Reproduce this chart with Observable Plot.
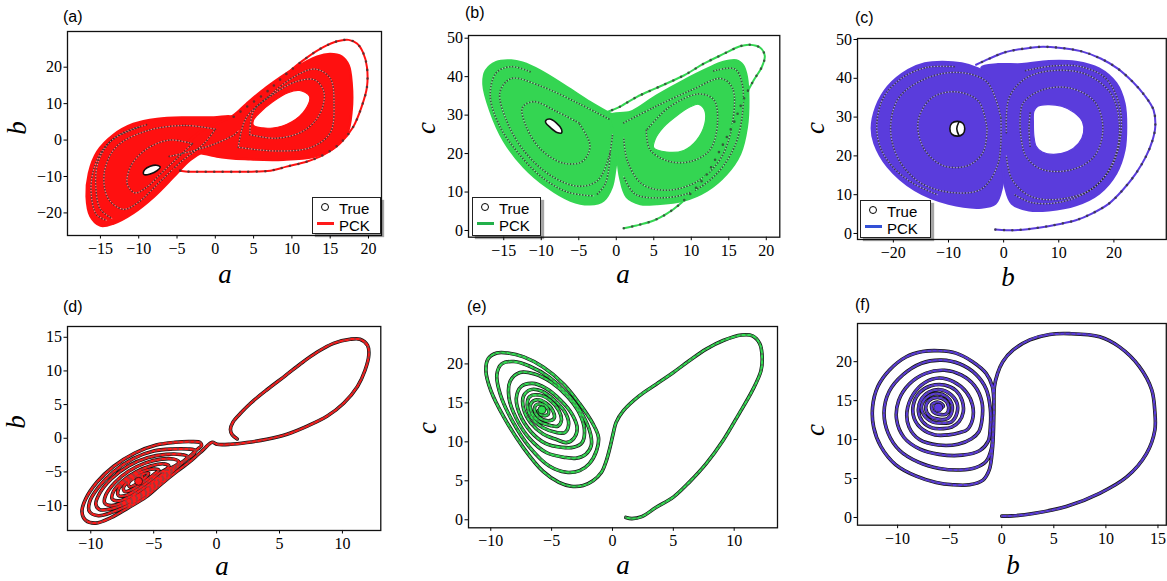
<!DOCTYPE html>
<html><head><meta charset="utf-8">
<script src="https://cdn.jsdelivr.net/npm/d3@7"></script>
<script src="https://cdn.jsdelivr.net/npm/@observablehq/plot@0.6"></script>
<style>
body{margin:0;background:#fff;}
#fig{position:relative;width:1167px;height:581px;overflow:hidden;background:#fff;}
#fig svg{position:absolute;overflow:visible;}
#fig svg text{font-family:"Liberation Serif","Times New Roman",serif !important;font-size:16px !important;fill:#000;}
.plab{position:absolute;font-family:"Liberation Sans",Arial,sans-serif;font-size:16px;line-height:1;color:#000;}
.alab{position:absolute;font-family:"Liberation Serif",serif;font-style:italic;font-size:27px;line-height:0.55;transform:translate(-50%,-50%);white-space:nowrap;}
.ylab{transform:translate(-50%,-50%) rotate(-90deg);}
.leg{position:absolute;background:#fff;border:1.3px solid #222;box-shadow:3px 3px 1px rgba(0,0,0,0.35);font-family:"Liberation Sans",Arial,sans-serif;font-size:15px;line-height:1;}
.leg .t{position:absolute;left:26px;}
.leg .c{position:absolute;width:6px;height:6px;border:1.4px solid #000;border-radius:50%;}
.leg .l{position:absolute;height:3px;width:17px;}
</style></head><body><div id="fig"></div>
<script>
// ---------------- DATA ----------------
const panelLabels = ["(a)","(b)","(c)","(d)","(e)","(f)"];
const legendLabels = ["True","PCK"];

// Panel (a): a-b projection, chaotic regime
const envA_L = [[2.4,6.2],[-0.2,6.2],[-3.7,6.2],[-7.6,5.8],[-10.7,4.4],[-13.3,1.4],[-15.4,-3.2],[-16.5,-9.1],[-16.8,-15.5],[-16.3,-20.9],[-15,-23.5],[-13.3,-22.9],[-10.7,-20],[-8,-15.5],[-5.4,-10],[-3.3,-5.5],[-1.1,-2.7],[1.5,-0.9]];
const envA_R = [[-3.7,-1.8],[0.2,-4.5],[4.6,-5.3],[8.9,-5.4],[12.8,-4.6],[15.4,-2.3],[17.2,1.8],[17.8,8.2],[17.8,15.5],[17.4,20.5],[16.5,22.9],[15,23.6],[13.3,22.9],[10.2,19.5],[6.7,14.5],[4.1,10],[2.4,6.8],[0.2,4.5],[-2,2.3]];
const holeA_R = [[5,4],[7.5,3.3],[10,5],[11.8,8.5],[12.3,12],[11,13.6],[9.5,13],[7.5,10.5],[5.8,7.5],[5,5.5]];
const holeA_L = [[-9.3,-9.5],[-8.5,-9.3],[-7.6,-8.4],[-7.2,-7.4],[-7.7,-6.9],[-8.5,-7.2],[-9.2,-8.1],[-9.4,-9]];
const transA = [[2.4,6.4],[4.1,9.1],[6.7,13.2],[9.3,18.2],[12,22.7],[14.1,25.5],[15.9,27.1],[17.4,27.5],[18.5,26.5],[19.3,24],[19.8,20],[19.8,14.5],[19.1,9.1],[18,3.6],[16.3,-0.9],[14.1,-4.1],[12,-5.9],[9.3,-7.3],[7.2,-8.4],[4,-8.7],[0,-8.7],[-3.9,-8.6],[-5.5,-8]];
const loopsA = [
  [[-9,4.2],[-12.5,1.5],[-14.8,-3],[-16,-9],[-16.2,-15],[-15.5,-20.5],[-14.2,-22]],
  [[-10,3.5],[-13.5,0],[-15.3,-6],[-15.6,-13],[-15,-19],[-13.5,-21.5]],
  [[0,3],[-4,4],[-9,2.5],[-13,-2],[-14.5,-9],[-14,-16],[-12,-19],[-10,-17],[-7.5,-12],[-4.5,-6],[-1.5,-1],[0,3]],
  [[-3,-1],[-6,0],[-9,-2.5],[-11,-7],[-11.5,-12],[-10.5,-14.5],[-9,-13],[-7,-9],[-5,-5],[-3,-1]],
  [[3,-2],[8,-3],[12.5,-2],[15,2],[15.5,10],[15,17],[13,19.5],[10,17],[7,12],[4,6],[3,-2]],
  [[4.5,1.5],[8,0.5],[11.5,2.5],[13.6,7],[14.2,13],[13,16.5],[10.5,16],[7.5,12.5],[5,8],[4.5,1.5]],
  [[-6,-4.5],[-3,-3],[0,-1],[2.5,1.5],[3,2.5]]
];

// Panel (b): a-c projection
const envB_L = [[0.2,20],[-0.1,16.5],[-0.6,11.3],[-1.7,7.8],[-3.5,6.8],[-6.1,7.8],[-9.2,11.3],[-12.3,16.5],[-15,23.4],[-16.8,31.2],[-17.7,38],[-17.4,41.5],[-16,43.8],[-14,44.2],[-12.5,43.6],[-10.1,41.5],[-6.6,37.3],[-3.5,33.4],[-1.2,30.8],[1,28.5],[1.5,24]];
const envB_R = [[-0.8,29.9],[1.9,30.8],[5.4,35.1],[9,39],[12.1,42],[14.3,43.8],[16,44.2],[16.9,42.9],[17.4,39.9],[17.6,33.8],[17.4,26.9],[16.5,19.9],[14.7,14.7],[12.1,10.4],[9,7.8],[5.4,6.9],[3.2,6.9],[1.4,8.7],[0.5,13.9],[0.1,20],[-0.3,25]];
const holeB_R = [[5,21.5],[6.7,20.4],[9,20.8],[10.7,23.4],[11.8,27.7],[11.8,31.2],[11,32.8],[9.8,32.1],[8.1,29.9],[6.3,26.9],[5.2,23.8]];
const holeB_L = [[-9.4,28.6],[-8.9,29],[-8,28],[-7.3,26.3],[-7.3,25.4],[-7.9,25.5],[-8.8,26.8],[-9.4,28]];
const transB = [[1,0.6],[2.7,1.3],[5,2.6],[6.7,4.3],[8.5,6.9],[10.3,10.4],[12.1,14.7],[13.8,20.8],[15.6,27.7],[16.9,33.8],[18.3,39],[19.4,42.5],[19.8,45.4],[19.2,47.5],[17.8,48.3],[16.5,47.9],[14.3,45.9],[11.6,43.3],[9,40.3],[5.4,37.1],[2.7,34.7],[0.5,32.2],[-1.2,30.8]];
const loopsB = [
  [[-1,29],[-5,33],[-10,37.5],[-14,39.5],[-15.5,36],[-14.5,28],[-12,20],[-8.5,14],[-5,11.5],[-2.5,13],[-1,19],[-0.5,25]],
  [[-5,28],[-8,31],[-11,33.5],[-12.5,32],[-12,27],[-10,21],[-7,17.5],[-4.5,18],[-3.5,22],[-5,28]],
  [[-11.5,41.3],[-14,42.6],[-16,41],[-16.8,35],[-15.5,27],[-13,20],[-10,14],[-6.5,10],[-3,9]],
  [[-2.5,9.5],[-1.5,12],[-1,16],[-0.8,21]],
  [[1,28],[5,32],[10,36.5],[14,39.5],[15.5,37],[15.5,28],[14,19],[11,13],[7,10.5],[3.5,12],[1.5,18],[1,24]],
  [[4,26],[4.5,21],[7,18],[10,18],[12.5,21],[13.5,28],[13,34],[11,35.5],[7,32],[4,26]],
  [[13,41.5],[15.8,42],[16.8,38],[16.8,30],[15.8,22],[13.5,15],[10,10],[6,8.5],[2.5,9.5],[1,14]]
];

// Panel (c): b-c projection
const envC_L = [[0.2,19.8],[-0.3,12],[-1.5,7.7],[-4,6.7],[-10,7.7],[-16.1,11.2],[-21,17.2],[-23.4,23.2],[-23.9,27.1],[-23.1,32.6],[-21,37.8],[-17.3,42.1],[-14.3,43.8],[-11.2,44.2],[-7.6,43.8],[-4.6,42.5],[-2.1,40.4],[-0.3,36.9],[0.3,31.8],[0.3,25.8]];
const envC_R = [[0.3,12],[1.5,7.7],[4.6,6],[8.2,6],[13.1,7.3],[17.3,10.3],[20.4,15.5],[21.9,21.5],[22.2,27.5],[21.9,33.5],[20.4,38.7],[17.3,42.5],[13.1,44.2],[8.2,44.4],[3.3,43.6],[-1,43.6],[-4,42.8],[-2.5,39.5],[-1,35],[-0.5,28],[-0.3,20]];
const holeC_R = [[5.5,31.5],[6.2,32.8],[8,33.2],[10.5,32.8],[12.8,31.2],[14.3,28.8],[14.5,26],[13.6,23.2],[11.6,21.1],[9,20.4],[7,21],[5.9,22.5],[5.5,25],[5.4,28.5]];
const holeC_L = [[-8.4,28.9],[-7.4,28.4],[-7.05,27],[-7.4,25.6],[-8.4,25.1],[-9.4,25.6],[-9.75,27],[-9.4,28.4]];
const splitC_L = [[-8.1,28.8],[-8.5,27],[-8.1,25.2]];
const transC = [[-1.5,1],[0.5,0.85],[2.7,0.9],[6.4,1.5],[10,2.4],[13.1,3.4],[16.1,5.2],[19.1,7.7],[21.6,11.2],[24,15.5],[25.8,19.8],[27,24],[27.5,27.5],[27.2,31.8],[25.5,35.7],[23.4,39.1],[20.7,42.5],[17.6,45.1],[14,47],[10,47.9],[6.4,48.1],[3,47.5],[0,46.6],[-2.7,45],[-5,43.5]];
const loopsC = [
  [[-9,43],[-14,42.8],[-18.5,40],[-21.8,35],[-23,28],[-22.3,22],[-20,17],[-16.5,13],[-12,10]],
  [[-0.5,30],[-3,39],[-8,41.5],[-14,40],[-19,35],[-20.5,27],[-19,19],[-15,13],[-9,10.5],[-4,11.5],[-1,18],[-0.5,30]],
  [[-3,27],[-4.5,34],[-8.5,36.5],[-13,35],[-15.5,29],[-14.5,22],[-11,17.5],[-6.5,17.5],[-3.7,21],[-3,27]],
  [[4,42],[9,43.2],[14,43],[18.5,40],[21,33],[21.2,25],[19.5,17],[15.5,11],[10,8],[5,8],[2,10]],
  [[0.5,26],[1,35],[4,40],[9,42],[15,41],[19.5,36],[21,28],[20,19],[16.5,12],[11,9],[5,9.5],[1.5,14],[0.5,20]],
  [[3,27],[3.5,33.5],[7,37],[12,37.5],[16.5,34],[18,27],[16.5,20],[12.5,16.5],[7,16.5],[4,20],[3,27]],
  [[4.8,31],[4.6,27],[4.8,22.5]]
];

// Panel (d): a-b projection, converging regime
const transD = [[1.64,-0.1],[1.25,0.5],[1.1,1.3],[1.3,2.4],[1.9,3.7],[2.7,5.2],[4,7.2],[5.4,9.2],[6.7,11.1],[8,12.8],[9.3,14.1],[10.6,14.7],[11.4,14.7],[12,13.8],[12.1,12.4],[11.8,10.1],[11.2,7.7],[10.1,5.2],[8.8,3.3],[7.2,1.8],[5.6,0.6],[4,-0.15],[2.4,-0.64],[1.1,-0.9],[0.05,-0.9],[-0.35,-0.6]];
const spiralD = [[-1,-1.6],[-2,-3.3],[-3.1,-4.85],[-4.4,-6.8],[-5.6,-8.7],[-7,-10.3],[-8.4,-11.8],[-9.6,-12.6],[-10.4,-12.2],[-10.7,-10.9],[-10.4,-9],[-9.5,-6.5],[-8.2,-4.2],[-6.5,-2.2],[-4.8,-1],[-3.3,-0.6],[-2,-0.5],[-1.3,-0.65],[-1.2,-1.1],[-1.5,-1.6],
  [-2.2,-2.8],[-3.3,-4.6],[-4.5,-6.6],[-5.7,-8.4],[-7,-9.9],[-8.3,-11],[-9.4,-11.5],[-10.1,-10.9],[-10.1,-9.5],[-9.4,-7.3],[-8.2,-5],[-6.6,-3],[-5,-1.9],[-3.5,-1.6],[-2.3,-1.6],[-1.7,-1.8],[-1.8,-2.3],
  [-2.5,-3.3],[-3.5,-4.8],[-4.7,-6.7],[-5.9,-8.4],[-7.2,-9.7],[-8.4,-10.5],[-9.3,-10.6],[-9.6,-9.8],[-9.3,-8.2],[-8.4,-6.1],[-7,-4.1],[-5.5,-2.9],[-4,-2.4],[-2.9,-2.4],[-2.3,-2.7],[-2.5,-3.2],
  [-3.1,-4],[-4.1,-5.4],[-5.1,-6.9],[-6.2,-8.4],[-7.4,-9.5],[-8.4,-10],[-8.9,-9.6],[-8.8,-8.4],[-8.1,-6.6],[-7,-4.9],[-5.7,-3.7],[-4.4,-3.1],[-3.4,-3.1],[-3,-3.5],[-3.2,-4],
  [-3.8,-4.6],[-4.7,-5.9],[-5.7,-7.3],[-6.8,-8.6],[-7.8,-9.3],[-8.3,-9],[-8.2,-7.9],[-7.5,-6.4],[-6.4,-5],[-5.2,-4.1],[-4.2,-3.8],[-3.8,-4.1],[-4,-4.6],
  [-4.5,-5.1],[-5.3,-6.3],[-6.3,-7.6],[-7.2,-8.5],[-7.8,-8.5],[-7.8,-7.6],[-7.2,-6.3],[-6.2,-5.2],[-5.2,-4.6],[-4.6,-4.7],
  [-5,-5.4],[-5.8,-6.5],[-6.6,-7.5],[-7.3,-7.9],[-7.4,-7.3],[-6.9,-6.3],[-6.1,-5.5],[-5.4,-5.2],
  [-5.6,-5.7],[-6.2,-6.6],[-6.9,-7.2],[-7,-6.7],[-6.5,-5.9],[-5.9,-5.7],[-6.1,-6.2]];
const centerD = [[-6.2,-6.4]];

// Panel (e): a-c projection
const transE = [[1.1,0.3],[1.6,0.15],[2.4,0.4],[3.6,1.6],[5,2.9],[6.3,4.8],[7.7,7.2],[9.1,10.2],[10.4,13.6],[11.5,16.6],[12.2,19.1],[12.3,20.9],[12.1,22.6],[11.5,23.6],[10.6,23.7],[9.1,23],[7.7,21.9],[6.3,20.4],[5,18.9],[3.6,17.4],[2.2,15.9],[0.9,14],[0.3,12.5],[0.05,11],[-0.2,9.3],[-0.5,7.6],[-0.9,6.1],[-1.6,5],[-2.4,4.4],[-3.4,4.3]];
const spiralE = [[-4.4,4.8],[-5.7,6.2],[-7.3,9.2],[-8.9,13.1],[-10,16.6],[-10.4,19.1],[-10.2,20.7],[-9.5,21.4],[-8.6,21.4],[-7.3,20.9],[-5.7,19.6],[-4,17.4],[-2.7,14.9],[-1.6,12.3],[-1.15,10.6],[-1.3,8.9],[-1.9,7.2],[-2.7,6.3],[-3.8,6.1],
  [-5.2,6.9],[-6.8,9.3],[-8.2,12.6],[-9.2,16],[-9.5,18.6],[-9.1,20],[-8.1,20.3],[-6.8,19.7],[-5.2,18.3],[-3.8,16.3],[-2.5,13.6],[-1.8,11],[-1.75,9.5],[-2.2,8.4],[-3,7.9],[-3.9,8],
  [-5.4,8.6],[-6.8,10.4],[-7.9,13],[-8.5,15.6],[-8.4,17.8],[-7.6,18.9],[-6.4,18.7],[-5,17.6],[-3.7,15.8],[-2.7,13.6],[-2.3,11.5],[-2.5,9.9],[-3.2,9.3],[-4.2,9.3],
  [-5.5,9.8],[-6.7,11.3],[-7.6,13.5],[-7.9,15.6],[-7.5,17.1],[-6.6,17.5],[-5.5,16.9],[-4.3,15.4],[-3.3,13.5],[-2.9,11.7],[-3.2,10.4],[-3.8,9.9],[-4.6,10.3],
  [-5.7,11],[-6.7,12.4],[-7.3,14.2],[-7.3,15.9],[-6.7,16.7],[-5.8,16.5],[-4.8,15.4],[-3.9,13.8],[-3.6,12.3],[-3.9,11.2],[-4.6,11.2],
  [-5.7,11.8],[-6.6,13],[-7,14.6],[-6.8,15.8],[-6,16],[-5.1,15.3],[-4.4,14],[-4.2,12.7],[-4.5,12],[-5.1,12.1],
  [-6,12.6],[-6.6,13.6],[-6.7,14.9],[-6.2,15.4],[-5.5,15],[-4.9,14],[-4.8,13],[-5.3,12.7],
  [-6.1,13.2],[-6.4,14],[-6.3,14.7],[-5.8,14.8],[-5.3,14.2],[-5.3,13.5],[-5.8,13.4],[-6.1,14]];
const centerE = [[-5.8,14.1]];

// Panel (f): b-c projection
const transF = [[0,0.17],[1,0.2],[3,0.5],[6.2,1.4],[9.4,3.1],[12,5.2],[13.9,8.2],[14.7,11.2],[14.7,13.6],[14.4,16.4],[13.2,19.4],[11.3,21.9],[9.4,23.2],[6.5,23.6],[4.6,23.5],[2.7,22.8],[1.1,21.5],[0.1,20],[-0.4,18.5],[-0.7,16.8],[-0.75,14],[-0.8,11]];
const spiralF = [[-0.9,8.7],[-1.2,6.1],[-1.8,4.8],[-3.1,4.2],[-4.7,4.2],[-6.3,4.5],[-8.2,5.3],[-10.2,6.8],[-11.6,9.1],[-12.3,11.6],[-12.4,14.2],[-11.9,16.8],[-10.8,18.9],[-9.2,20.6],[-7.6,21.3],[-6,21.4],[-4.4,21.1],[-2.8,20],[-1.5,18.5],[-0.9,16.8],[-0.75,14],[-0.85,11],
  [-1,8.8],[-1.5,7.2],[-2.5,6.4],[-4,6.1],[-6,6.3],[-8,7.1],[-9.8,8.6],[-10.9,10.8],[-11.3,13.5],[-10.8,16.2],[-9.5,18.3],[-7.7,19.8],[-5.8,20.2],[-4,19.7],[-2.5,18.4],[-1.5,16.5],[-1.1,14],[-1.1,11.5],
  [-1.3,9.8],[-2.1,8.6],[-3.8,8],[-6,8.1],[-7.9,8.8],[-9.4,10.3],[-10.1,12.6],[-9.9,15],[-8.9,17.1],[-7.3,18.5],[-5.5,18.9],[-3.9,18.3],[-2.6,16.9],[-1.9,14.8],[-1.9,12.5],[-2.2,11],
  [-2.9,10.1],[-4.2,9.4],[-6.1,9.3],[-7.9,10],[-8.9,11.6],[-9.1,13.6],[-8.5,15.8],[-7.4,17.3],[-6,17.9],[-4.6,17.4],[-3.4,16.1],[-2.8,14.4],[-2.8,12.6],[-3.3,11.3],
  [-4,10.9],[-5.1,10.6],[-6.4,10.6],[-7.6,11.3],[-8.4,12.7],[-8.5,14.4],[-7.9,16],[-6.8,16.9],[-5.5,17],[-4.4,16.3],[-3.8,15],[-3.7,13.5],[-4.1,12.3],[-4.8,11.6],
  [-5.6,11.4],[-6.7,11.5],[-7.6,12.3],[-8,13.6],[-7.8,15],[-7,16.1],[-5.9,16.4],[-4.9,15.8],[-4.3,14.7],[-4.3,13.4],[-4.8,12.3],
  [-5.7,12.1],[-6.7,12.3],[-7.5,13.2],[-7.7,14.3],[-7.2,15.4],[-6.2,15.9],[-5.3,15.5],[-4.8,14.6],[-4.8,13.5],[-5.2,12.7],
  [-6,12.6],[-6.9,13],[-7.3,14],[-7,15],[-6.2,15.4],[-5.4,15],[-5.1,14.2],[-5.3,13.3],[-5.8,13.2],[-6.6,13.6],[-6.7,14.5],[-6.1,14.8],[-5.6,14.3],[-6,13.9]];
const centerF = [[-6.1,14.1]];

// ticks
const ticksA_x = [-15,-10,-5,0,5,10,15,20], ticksA_y = [-20,-10,0,10,20];
const ticksB_x = [-15,-10,-5,0,5,10,15,20], ticksB_y = [0,10,20,30,40,50];
const ticksC_x = [-20,-10,0,10,20], ticksC_y = [0,10,20,30,40,50];
const ticksD_x = [-10,-5,0,5,10], ticksD_y = [-10,-5,0,5,10,15];
const ticksE_x = [-10,-5,0,5,10], ticksE_y = [0,5,10,15,20];
const ticksF_x = [-10,-5,0,5,10,15], ticksF_y = [0,5,10,15,20];

// ---------------- RENDER ----------------
const fig = document.getElementById("fig");
const RED = "#ff1010", GREEN = "#34d552", BLUE = "#5a3cdc";
const SERIF = "'Liberation Serif', 'Times New Roman', serif";

function panel(box, xd, yd, xt, yt, marks) {
  const [x0, y0, x1, y1] = box;
  const ml = 60, mt = 6, mr = 2, mb = 34;
  const svg = Plot.plot({
    width: (x1 - x0) + ml + mr, height: (y1 - y0) + mt + mb,
    marginLeft: ml, marginTop: mt, marginRight: mr, marginBottom: mb,
    x: {domain: xd, ticks: xt, tickSize: 3.5, tickPadding: 3.5, label: null},
    y: {domain: yd, ticks: yt, tickSize: 3.5, tickPadding: 2, label: null},
    style: {fontFamily: SERIF, fontSize: "16px", color: "#000", background: "transparent", overflow: "visible"},
    marks: [...marks, Plot.frame({stroke: "#111", strokeWidth: 1.3})]
  });
  svg.setAttribute("font-family", SERIF);
  svg.querySelectorAll("g, text").forEach(el => {
    if (el.hasAttribute("font-family")) el.setAttribute("font-family", SERIF);
    if (el.tagName.toLowerCase() === "text") { el.style.fontFamily = SERIF; el.style.fontSize = "16px"; }
  });
  svg.style.left = (x0 - ml) + "px";
  svg.style.top = (y0 - mt) + "px";
  fig.appendChild(svg);
}

function attractorMarks(C, envL, envR, holeR, holeL, loops, trans, extra) {
  const cr = {curve: "catmull-rom"};
  return [
    Plot.line(envL, {fill: C, stroke: C, strokeWidth: 2.5, curve: "catmull-rom-closed"}),
    Plot.line(envR, {fill: C, stroke: C, strokeWidth: 2.5, curve: "catmull-rom-closed"}),
    ...loops.map(l => Plot.line(l, {...cr, stroke: "#fff", strokeWidth: 0.7, strokeOpacity: 0.75})),
    ...loops.map(l => Plot.line(l, {...cr, stroke: "#1a1a1a", strokeWidth: 1.8, strokeDasharray: "0 3", strokeLinecap: "round", strokeOpacity: 0.7})),
    Plot.line(holeR, {fill: "#fff", stroke: C, strokeWidth: 1.2, curve: "catmull-rom-closed"}),
    Plot.line(holeL, {fill: "#fff", stroke: "#111", strokeWidth: 1.6, curve: "catmull-rom-closed"}),
    ...(extra || []),
    Plot.line(trans, {...cr, stroke: C, strokeWidth: 2}),
    Plot.line(trans, {...cr, stroke: "#333", strokeWidth: 2.6, strokeDasharray: "0 8.5", strokeLinecap: "round", strokeOpacity: 0.75})
  ];
}

function spiralMarks(C, data, center, r) {
  const cr = {curve: "catmull-rom"};
  return [
    Plot.line(data, {...cr, stroke: "#111", strokeWidth: 3.6}),
    Plot.line(data, {...cr, stroke: C, strokeWidth: 2.2}),
    Plot.line(data, {...cr, stroke: "#555", strokeWidth: 2.4, strokeDasharray: "0 5.5", strokeLinecap: "round", strokeOpacity: 0.55}),
    Plot.dot(center, {r: r, fill: C, stroke: "#111", strokeWidth: 0.8})
  ];
}

panel([67, 31, 381, 235], [-19.3, 21.7], [-26.2, 29.8], ticksA_x, ticksA_y,
  attractorMarks(RED, envA_L, envA_R, holeA_R, holeA_L, loopsA, transA));
panel([467.7, 35, 779, 236.7], [-19.7, 21.8], [-1.74, 50.7], ticksB_x, ticksB_y,
  attractorMarks(GREEN, envB_L, envB_R, holeB_R, holeB_L, loopsB, transB));
panel([856.7, 38.3, 1165.5, 239.3], [-26.5, 29.5], [-1.55, 50.26], ticksC_x, ticksC_y,
  attractorMarks(BLUE, envC_L, envC_R, holeC_R, holeC_L, loopsC, transC,
    [Plot.line(splitC_L, {stroke: "#111", strokeWidth: 1.6, curve: "catmull-rom"})]));
panel([66.7, 326, 380, 530], [-11.85, 13.05], [-13.7, 16.6], ticksD_x, ticksD_y,
  spiralMarks("#ff1a1a", transD.concat(spiralD), centerD, 4));
panel([467.7, 326, 776.7, 527.3], [-11.83, 13.56], [-1.03, 24.8], ticksE_x, ticksE_y,
  spiralMarks("#30dd50", transE.concat(spiralE), centerE, 4));
panel([856.7, 323.3, 1165.5, 525], [-13.85, 15.8], [-0.99, 24.9], ticksF_x, ticksF_y,
  spiralMarks("#5b3ae0", transF.concat(spiralF), centerF, 4.5));

// panel labels
const plabPos = [[63,9],[465,5],[855,10],[63,299],[467,299],[855,297]];
panelLabels.forEach((t, i) => {
  const s = document.createElement("div");
  s.className = "plab"; s.textContent = t;
  s.style.left = plabPos[i][0] + "px"; s.style.top = plabPos[i][1] + "px";
  fig.appendChild(s);
});

// axis labels (centres of the glyph boxes)
const xLabels = [["a",225,274],["a",623,274],["b",1008,277],["a",222,566],["a",623,565],["b",1013,565]];
const yLabels = [["b",17,128],["c",426,128],["c",815,128],["b",16,422],["c",427,428],["c",815,430]];
xLabels.forEach(([t, x, y]) => {
  const s = document.createElement("div");
  s.className = "alab"; s.textContent = t;
  s.style.left = x + "px"; s.style.top = y + "px";
  fig.appendChild(s);
});
yLabels.forEach(([t, x, y]) => {
  const s = document.createElement("div");
  s.className = "alab ylab"; s.textContent = t;
  s.style.left = x + "px"; s.style.top = y + "px";
  fig.appendChild(s);
});

// legends
const legends = [[312,197,67,35,"#ff1a1a"],[472,197,67,37,"#22b04a"],[860,200,69,36,"#3350d6"]];
legends.forEach(([x, y, w, h, col]) => {
  const b = document.createElement("div");
  b.className = "leg";
  b.style.left = x + "px"; b.style.top = y + "px";
  b.style.width = w + "px"; b.style.height = h + "px";
  b.innerHTML = `<div class="c" style="left:8px;top:5px"></div>
    <div class="t" style="top:3px">${legendLabels[0]}</div>
    <div class="l" style="left:4px;top:24px;background:${col}"></div>
    <div class="t" style="top:20px">${legendLabels[1]}</div>`;
  fig.appendChild(b);
});
</script></body></html>
